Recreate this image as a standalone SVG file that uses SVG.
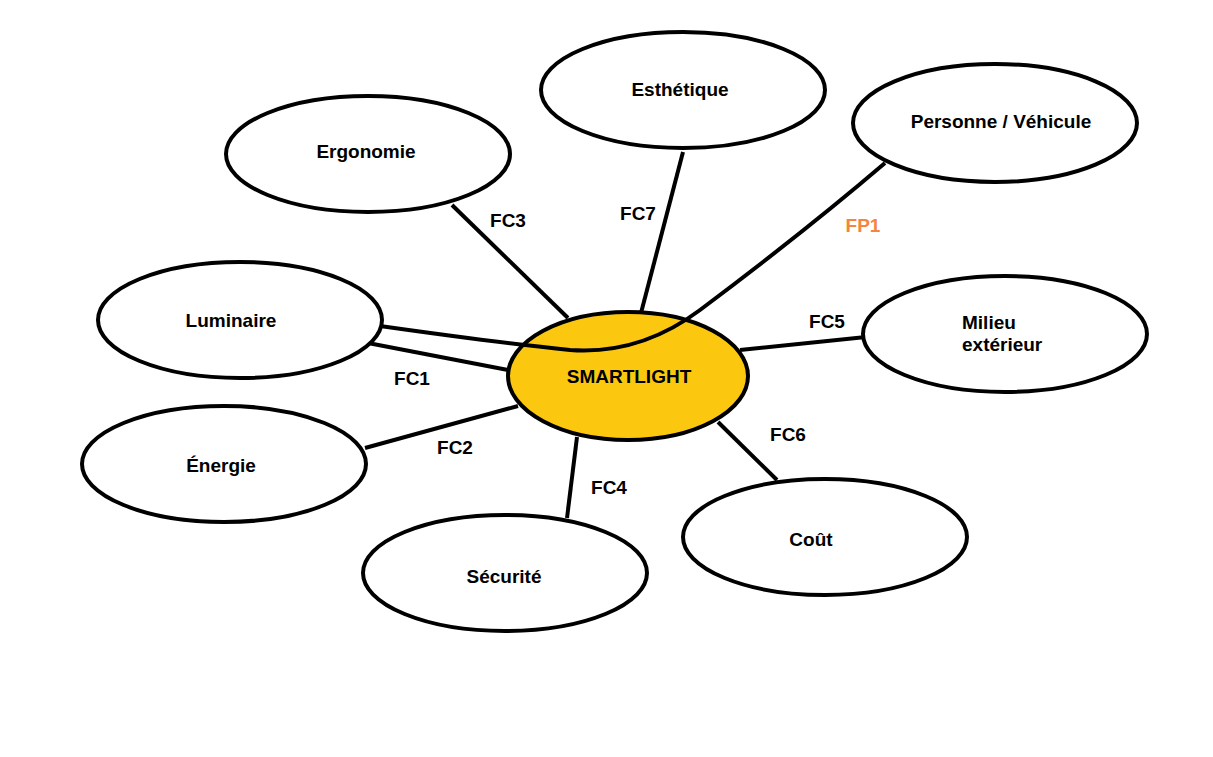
<svg xmlns="http://www.w3.org/2000/svg" width="1213" height="757" viewBox="0 0 1213 757">
<style>
.n{fill:#fff;stroke:#000;stroke-width:4}
.c{fill:#FCC80F;stroke:#000;stroke-width:4}
.t{font-family:"Liberation Sans",Arial,sans-serif;font-weight:bold;font-size:19px;fill:#000;text-anchor:middle;dominant-baseline:central}
.l{fill:none;stroke:#000;stroke-width:4}
.lb{font-family:"Liberation Sans",Arial,sans-serif;font-weight:bold;font-size:19px;fill:#000;text-anchor:middle;dominant-baseline:central}
</style>
<rect width="1213" height="757" fill="#fff"/>
<g id="connectors">
<line class="l" x1="452" y1="205" x2="568" y2="318"/>
<line class="l" x1="683" y1="152" x2="641" y2="313"/>
<line class="l" x1="368" y1="343" x2="508" y2="370"/>
<line class="l" x1="365" y1="448" x2="518" y2="406"/>
<line class="l" x1="577" y1="437" x2="567" y2="518"/>
<line class="l" x1="718" y1="422" x2="777" y2="480"/>
<line class="l" x1="740" y1="350" x2="866" y2="337"/>
</g>
<g id="smartlight"><ellipse class="c" cx="628" cy="376" rx="120" ry="64"/><text class="t" x="629" y="376">SMARTLIGHT</text></g>
<path id="fp1" class="l" d="M380,326 Q500,343 570,350 Q640,355 700,310 C760,265 830,210 885,163"/>
<g id="labels">
<text class="lb" x="508" y="220">FC3</text>
<text class="lb" x="638" y="213">FC7</text>
<text class="lb" x="863" y="225" style="fill:#F5843C">FP1</text>
<text class="lb" x="827" y="321">FC5</text>
<text class="lb" x="412" y="378">FC1</text>
<text class="lb" x="455" y="447">FC2</text>
<text class="lb" x="788" y="434">FC6</text>
<text class="lb" x="609" y="487">FC4</text>
</g>
<g id="esthetique"><ellipse class="n" cx="683" cy="90" rx="142" ry="58"/><text class="t" x="680" y="89">Esthétique</text></g>
<g id="ergonomie"><ellipse class="n" cx="368" cy="154" rx="142" ry="58"/><text class="t" x="366" y="151">Ergonomie</text></g>
<g id="personne"><ellipse class="n" cx="995" cy="123" rx="142" ry="59"/><text class="t" x="1001" y="121">Personne / Véhicule</text></g>
<g id="luminaire"><ellipse class="n" cx="240" cy="320" rx="142" ry="58"/><text class="t" x="231" y="320">Luminaire</text></g>
<g id="milieu"><ellipse class="n" cx="1005" cy="334" rx="142" ry="58"/><text class="t" x="962" y="322" style="text-anchor:start">Milieu</text><text class="t" x="962" y="344" style="text-anchor:start">extérieur</text></g>
<g id="energie"><ellipse class="n" cx="224" cy="464" rx="142" ry="58"/><text class="t" x="221" y="465">Énergie</text></g>
<g id="securite"><ellipse class="n" cx="505" cy="573" rx="142" ry="58"/><text class="t" x="504" y="576">Sécurité</text></g>
<g id="cout"><ellipse class="n" cx="825" cy="537" rx="142" ry="58"/><text class="t" x="811" y="539">Coût</text></g>
</svg>
